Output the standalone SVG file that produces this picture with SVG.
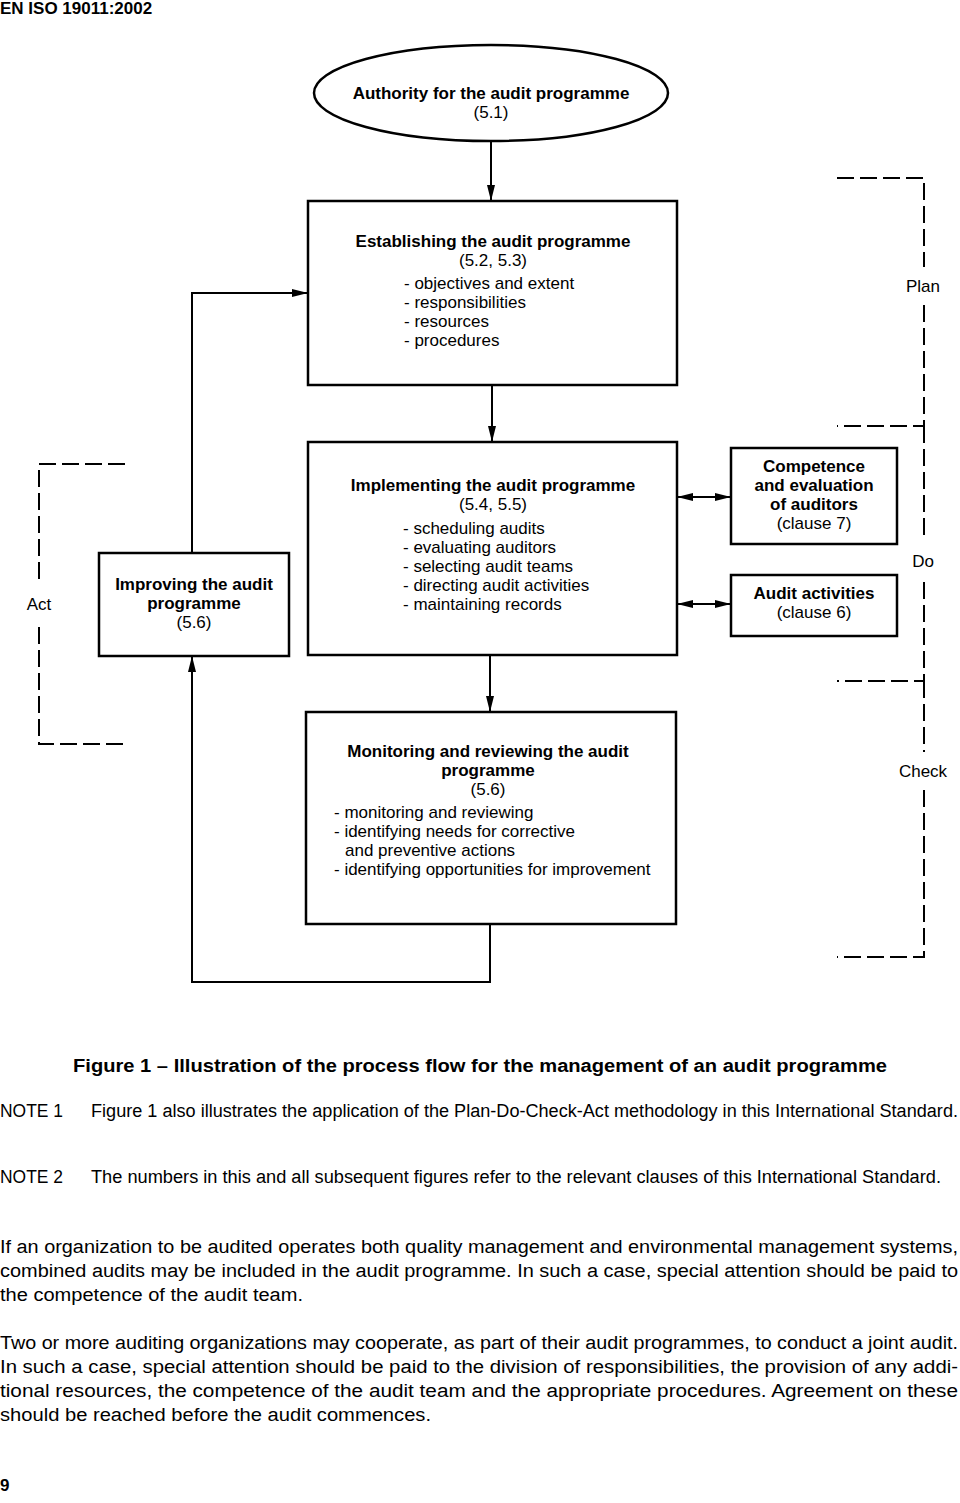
<svg xmlns="http://www.w3.org/2000/svg" width="960" height="1503" viewBox="0 0 960 1503">
<style>
text{font-family:"Liberation Sans",Arial,sans-serif;fill:#000;font-size:17px}
.b{font-weight:bold}
.c{text-anchor:middle}
.t{font-size:18px}
.box{fill:#fff;stroke:#000;stroke-width:2.5}
.ln{fill:none;stroke:#000;stroke-width:2}
.dash{fill:none;stroke:#000;stroke-width:2;stroke-dasharray:17 6}
.lab{font-size:17px;text-anchor:middle}
</style>
<defs>
<marker id="ah" markerUnits="userSpaceOnUse" markerWidth="16" markerHeight="8" refX="16" refY="4" orient="auto-start-reverse">
<path d="M0,0 L16,4 L0,8 z" fill="#000"/>
</marker>
</defs>
<rect width="960" height="1503" fill="#fff"/>
<text x="0" y="14" class="b">EN ISO 19011:2002</text>

<g id="connectors">
<line class="ln" x1="491" y1="142" x2="491" y2="201" marker-end="url(#ah)"/>
<line class="ln" x1="492" y1="385" x2="492" y2="442" marker-end="url(#ah)"/>
<line class="ln" x1="490" y1="655" x2="490" y2="712" marker-end="url(#ah)"/>
<polyline class="ln" points="490,924 490,982 192,982 192,656" marker-end="url(#ah)"/>
<polyline class="ln" points="192,553 192,293 308,293" marker-end="url(#ah)"/>
<line class="ln" x1="677" y1="497" x2="731" y2="497" marker-start="url(#ah)" marker-end="url(#ah)"/>
<line class="ln" x1="677" y1="604" x2="731" y2="604" marker-start="url(#ah)" marker-end="url(#ah)"/>
</g>

<g id="authority">
<ellipse class="box" cx="491" cy="93" rx="177" ry="48"/>
<text x="491" y="99" class="b c">Authority for the audit programme</text>
<text x="491" y="118" class="c">(5.1)</text>
</g>

<g id="establishing">
<rect class="box" x="308" y="201" width="369" height="184"/>
<text x="493" y="247" class="b c">Establishing the audit programme</text>
<text x="493" y="266" class="c">(5.2, 5.3)</text>
<text x="404" y="289">- objectives and extent</text>
<text x="404" y="308">- responsibilities</text>
<text x="404" y="327">- resources</text>
<text x="404" y="346">- procedures</text>
</g>

<g id="implementing">
<rect class="box" x="308" y="442" width="369" height="213"/>
<text x="493" y="491" class="b c">Implementing the audit programme</text>
<text x="493" y="510" class="c">(5.4, 5.5)</text>
<text x="403" y="534">- scheduling audits</text>
<text x="403" y="553">- evaluating auditors</text>
<text x="403" y="572">- selecting audit teams</text>
<text x="403" y="591">- directing audit activities</text>
<text x="403" y="610">- maintaining records</text>
</g>

<g id="improving">
<rect class="box" x="99" y="553" width="190" height="103"/>
<text x="194" y="590" class="b c">Improving the audit</text>
<text x="194" y="609" class="b c">programme</text>
<text x="194" y="628" class="c">(5.6)</text>
</g>

<g id="competence">
<rect class="box" x="731" y="448" width="166" height="96"/>
<text x="814" y="472" class="b c">Competence</text>
<text x="814" y="491" class="b c">and evaluation</text>
<text x="814" y="510" class="b c">of auditors</text>
<text x="814" y="529" class="c">(clause 7)</text>
</g>

<g id="auditactivities">
<rect class="box" x="731" y="575" width="166" height="61"/>
<text x="814" y="599" class="b c">Audit activities</text>
<text x="814" y="618" class="c">(clause 6)</text>
</g>

<g id="monitoring">
<rect class="box" x="306" y="712" width="370" height="212"/>
<text x="488" y="757" class="b c">Monitoring and reviewing the audit</text>
<text x="488" y="776" class="b c">programme</text>
<text x="488" y="795" class="c">(5.6)</text>
<text x="334" y="818">- monitoring and reviewing</text>
<text x="334" y="837">- identifying needs for corrective</text>
<text x="345" y="856">and preventive actions</text>
<text x="334" y="875">- identifying opportunities for improvement</text>
</g>

<g id="pdca">
<path class="dash" d="M837,178 H924 V267"/>
<path class="dash" d="M924,305 V426 H837"/>
<path class="dash" d="M924,426 V540"/>
<path class="dash" d="M924,582 V681 H837"/>
<path class="dash" d="M924,681 V752"/>
<path class="dash" d="M924,790 V957 H837"/>
<path class="dash" d="M125,464 H39 V582"/>
<path class="dash" d="M39,627 V744 H125"/>
<text x="923" y="292" class="lab">Plan</text>
<text x="923" y="567" class="lab">Do</text>
<text x="923" y="777" class="lab">Check</text>
<text x="39" y="610" class="lab">Act</text>
</g>

<g id="caption">
<text x="73" y="1072" class="b t" textLength="814" lengthAdjust="spacingAndGlyphs">Figure 1 – Illustration of the process flow for the management of an audit programme</text>
<text x="0" y="1117" class="t" textLength="63" lengthAdjust="spacingAndGlyphs">NOTE 1</text>
<text x="91" y="1117" class="t" textLength="867" lengthAdjust="spacingAndGlyphs">Figure 1 also illustrates the application of the Plan-Do-Check-Act methodology in this International Standard.</text>
<text x="0" y="1183" class="t" textLength="63" lengthAdjust="spacingAndGlyphs">NOTE 2</text>
<text x="91" y="1183" class="t" textLength="850" lengthAdjust="spacingAndGlyphs">The numbers in this and all subsequent figures refer to the relevant clauses of this International Standard.</text>
<text x="0" y="1253" class="t" textLength="958" lengthAdjust="spacingAndGlyphs">If an organization to be audited operates both quality management and environmental management systems,</text>
<text x="0" y="1277" class="t" textLength="958" lengthAdjust="spacingAndGlyphs">combined audits may be included in the audit programme. In such a case, special attention should be paid to</text>
<text x="0" y="1301" class="t" textLength="303" lengthAdjust="spacingAndGlyphs">the competence of the audit team.</text>
<text x="0" y="1349" class="t" textLength="958" lengthAdjust="spacingAndGlyphs">Two or more auditing organizations may cooperate, as part of their audit programmes, to conduct a joint audit.</text>
<text x="0" y="1373" class="t" textLength="958" lengthAdjust="spacingAndGlyphs">In such a case, special attention should be paid to the division of responsibilities, the provision of any addi-</text>
<text x="0" y="1397" class="t" textLength="958" lengthAdjust="spacingAndGlyphs">tional resources, the competence of the audit team and the appropriate procedures. Agreement on these</text>
<text x="0" y="1421" class="t" textLength="431" lengthAdjust="spacingAndGlyphs">should be reached before the audit commences.</text>
<text x="0" y="1491" class="b">9</text>
</g>
</svg>
